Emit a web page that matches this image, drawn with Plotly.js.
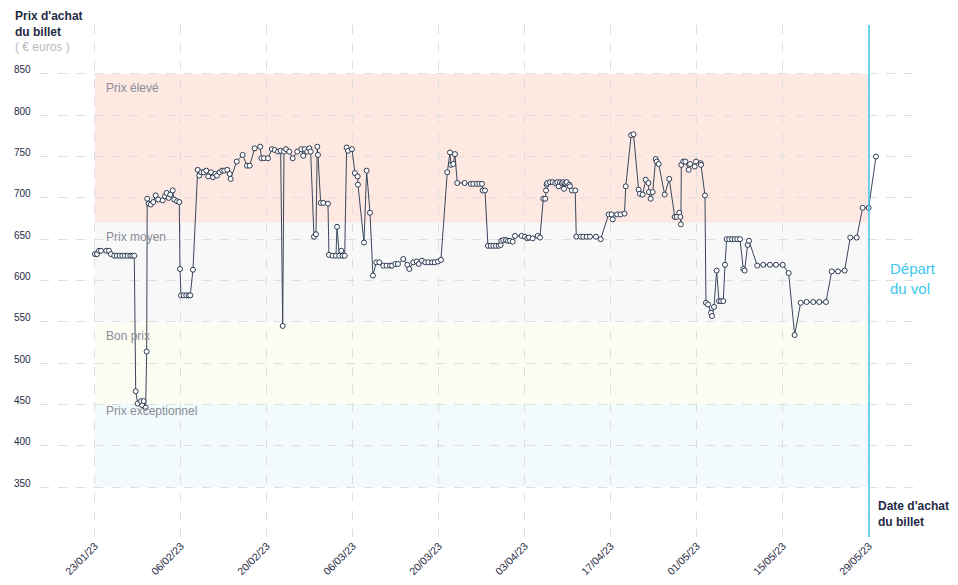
<!DOCTYPE html>
<html>
<head>
<meta charset="utf-8">
<script src="https://cdn.plot.ly/plotly-3.0.1.min.js"></script>
<style>
html,body{margin:0;padding:0;background:#fff;}
#chart{width:958px;height:585px;}
</style>
</head>
<body>
<div id="chart"></div>
<script>
// Days after 23/01/2023 at which the ticket price was observed
const purchaseDay = [
  0.0,0.33,0.65,0.98,1.84,2.28,2.6,3.14,3.58,4.02,4.44,4.88,5.32,5.75,6.07,6.4,
  6.63,6.95,7.49,7.7,7.93,8.25,8.42,8.5,8.74,9.07,9.49,9.88,10.3,11.02,11.4,11.67,
  12.0,12.26,12.65,12.9,13.35,13.72,13.84,14.0,14.44,14.86,15.25,15.51,15.95,
  16.72,16.98,17.3,17.7,18.12,18.44,18.88,19.21,19.58,19.86,20.3,20.72,21.05,21.54,
  21.93,22.09,23.07,24.04,24.74,25.18,26.0,26.9,27.1,27.5,28.16,28.8,29.25,29.8,
  30.23,30.56,30.77,31.09,31.63,32.18,32.93,33.58,33.91,34.14,34.56,34.89,35.11,
  35.65,35.97,36.19,36.3,36.74,37.16,37.93,38.09,38.69,39.23,39.4,39.77,40.1,40.3,
  40.65,40.97,41.18,41.84,42.32,42.76,42.81,43.79,44.22,44.77,45.25,45.79,46.28,
  46.93,47.47,48.02,48.35,48.89,49.32,50.19,50.84,51.17,51.82,52.37,52.7,53.23,
  53.77,54.26,54.86,55.3,55.84,56.32,57.35,57.79,57.95,58.33,58.6,58.98,60.18,
  61.16,61.58,62.14,62.56,63.0,63.11,63.49,63.97,64.41,64.84,65.28,65.72,66.04,
  66.14,66.47,66.9,67.23,67.56,68.0,68.37,69.46,70.0,70.37,70.65,71.25,72.07,72.44,
  72.98,73.3,73.42,73.53,73.63,74.07,74.51,74.93,75.26,75.48,75.7,76.02,76.23,
  76.35,76.56,76.79,77.21,77.32,77.65,78.18,78.35,79.06,79.49,80.04,80.58,81.56,
  82.32,83.62,84.1,84.3,85.0,85.55,86.2,86.41,87.28,87.67,88.5,88.72,89.16,89.65,
  90.1,90.18,90.46,90.79,91.28,91.45,91.77,92.74,93.49,94.37,94.7,95.12,95.3,95.38,
  95.45,95.78,96.1,96.65,96.87,97.63,97.84,98.6,98.65,99.3,99.46,99.79,100.28,
  100.44,100.77,101.2,101.58,101.91,102.28,102.56,102.83,103.26,103.7,104.13,
  104.56,105.0,105.54,105.76,106.25,106.47,107.81,108.8,109.88,110.86,111.95,
  112.92,113.9,114.88,115.85,116.93,117.9,119.0,119.93,120.95,122.04,122.95,124.0,
  124.97,125.95,127.14
];
// Ticket price in euros
const ticketPrice = [
  632,632,636,636,636,636,632,630,630,630,630,630,630,630,630,630,
  466,451,454,449,454,446,514,699,693,692,695,703,698,697,702,706,
  700,704,709,698,696,695,614,582,582,582,582,582,613,
  734,727,731,731,733,726,731,725,729,727,731,733,733,734,
  729,723,744,752,739,739,760,762,748,748,748,759,758,756,
  757,545,756,759,756,748,756,759,751,759,756,760,756,
  653,656,762,752,694,694,693,631,630,630,665,630,636,630,
  630,761,757,759,730,726,716,646,733,682,606,622,622,
  618,618,618,618,620,620,626,619,614,622,623,620,624,
  622,622,622,622,623,625,731,755,740,741,753,718,718,
  717,717,717,717,717,709,709,642,642,642,642,642,643,
  648,649,649,648,648,647,654,654,653,651,652,651,654,652,
  699,699,709,716,718,719,719,718,719,714,719,718,719,
  711,718,719,716,714,709,709,653,653,653,653,653,653,
  650,680,680,674,680,680,681,714,776,777,710,705,704,722,
  718,707,699,707,747,744,741,704,723,677,677,682,677,668,
  740,744,744,734,741,738,744,742,740,703,573,571,561,
  557,568,612,575,575,575,619,650,650,650,650,
  650,650,614,612,643,648,618,619,619,619,619,
  609,534,573,574,574,574,574,611,611,612,652,652,
  688,688,750
];

const priceBandNames = ["Prix élevé", "Prix moyen", "Bon prix", "Prix exceptionnel"];
const priceBandLow  = [670, 550, 450, 350];
const priceBandHigh = [850, 670, 550, 450];
const priceBandColors = ["#fde8e2", "#f8f8f8", "#fbfcf2", "#f2fafd"];
const yTickValues = [350, 400, 450, 500, 550, 600, 650, 700, 750, 800, 850];

const firstPurchaseDate = "2023-01-23";

const DAY = 86400000;
const base = Date.UTC(2023, 0, 23);
const xDates = purchaseDay.map(d => base + d * DAY);
const dStart = Date.UTC(2023, 0, 23);
const dEnd = Date.UTC(2023, 4, 29);

const navy = "#1f2a44";
const font = "Liberation Sans, Arial, sans-serif";
const bandLabelShift = [-5, -5, -5, 2];

const shapes = [];
const annotations = [];
priceBandNames.forEach((name, i) => {
  shapes.push({type: "rect", xref: "x", yref: "y", x0: dStart, x1: dEnd,
    y0: priceBandLow[i], y1: priceBandHigh[i], fillcolor: priceBandColors[i],
    line: {width: 0}, layer: "below"});
  annotations.push({xref: "x", yref: "y", x: dStart, y: priceBandHigh[i],
    xanchor: "left", yanchor: "top", xshift: 9, yshift: bandLabelShift[i], showarrow: false,
    text: name, font: {family: font, size: 12, color: "#8b8c97"}});
});
shapes.push({type: "line", xref: "x", yref: "paper", x0: dEnd, x1: dEnd, y0: 0, y1: 1,
  line: {color: "#3cc7ee", width: 1.5}});

yTickValues.forEach(v => {
  annotations.push({xref: "paper", yref: "y", x: 0, y: v, xanchor: "right",
    yanchor: "middle", xshift: -7, yshift: 4, showarrow: false, text: String(v),
    font: {family: font, size: 10, color: navy}});
});

annotations.push({xref: "paper", yref: "paper", x: 0, y: 1, xanchor: "left", yanchor: "bottom",
  xshift: -27, yshift: -31, showarrow: false, align: "left",
  text: "<b>Prix d'achat</b><br><b>du billet</b><br><span style='color:#b9b9c0'>( € euros )</span>",
  font: {family: font, size: 12, color: navy}});
annotations.push({xref: "x", yref: "paper", x: dEnd, y: 0, xanchor: "left", yanchor: "top",
  xshift: 7, yshift: 40, showarrow: false, align: "left",
  text: "<b>Date d'achat</b><br><b>du billet</b>", font: {family: font, size: 12, color: navy}});
annotations.push({xref: "x", yref: "y", x: dEnd, y: 600, xanchor: "left", yanchor: "middle",
  xshift: 19, yshift: 2, showarrow: false, align: "left",
  text: "Départ<br>du vol", font: {family: font, size: 15, color: "#3cc7ee"}});

const trace = {
  x: xDates, y: ticketPrice, type: "scatter", mode: "lines+markers",
  line: {color: "#3b475c", width: 1},
  marker: {size: 5, color: "#ffffff", line: {color: "#2d3a52", width: 1}},
  hoverinfo: "x+y", cliponaxis: false
};

const layout = {
  width: 958, height: 585,
  margin: {l: 40, r: 40, t: 25, b: 48},
  paper_bgcolor: "#ffffff", plot_bgcolor: "#ffffff",
  showlegend: false,
  font: {family: font, color: navy},
  xaxis: {
    type: "date",
    range: [base - 8.95 * DAY, base + 133.98 * DAY],
    tick0: firstPurchaseDate, dtick: 14 * DAY,
    tickformat: "%d/%m/%y", tickangle: -45,
    tickfont: {family: font, size: 10.5, color: navy},
    showgrid: true, gridcolor: "#dedede", griddash: "dash", gridwidth: 1,
    zeroline: false, showline: false, ticks: ""
  },
  yaxis: {
    range: [289.5, 909.3],
    tickvals: yTickValues, showticklabels: false,
    showgrid: true, gridcolor: "#dedede", griddash: "dash", gridwidth: 1,
    zeroline: false, showline: false, ticks: ""
  },
  shapes: shapes,
  annotations: annotations
};

Plotly.newPlot("chart", [trace], layout, {displayModeBar: false, staticPlot: true});
</script>
</body>
</html>
